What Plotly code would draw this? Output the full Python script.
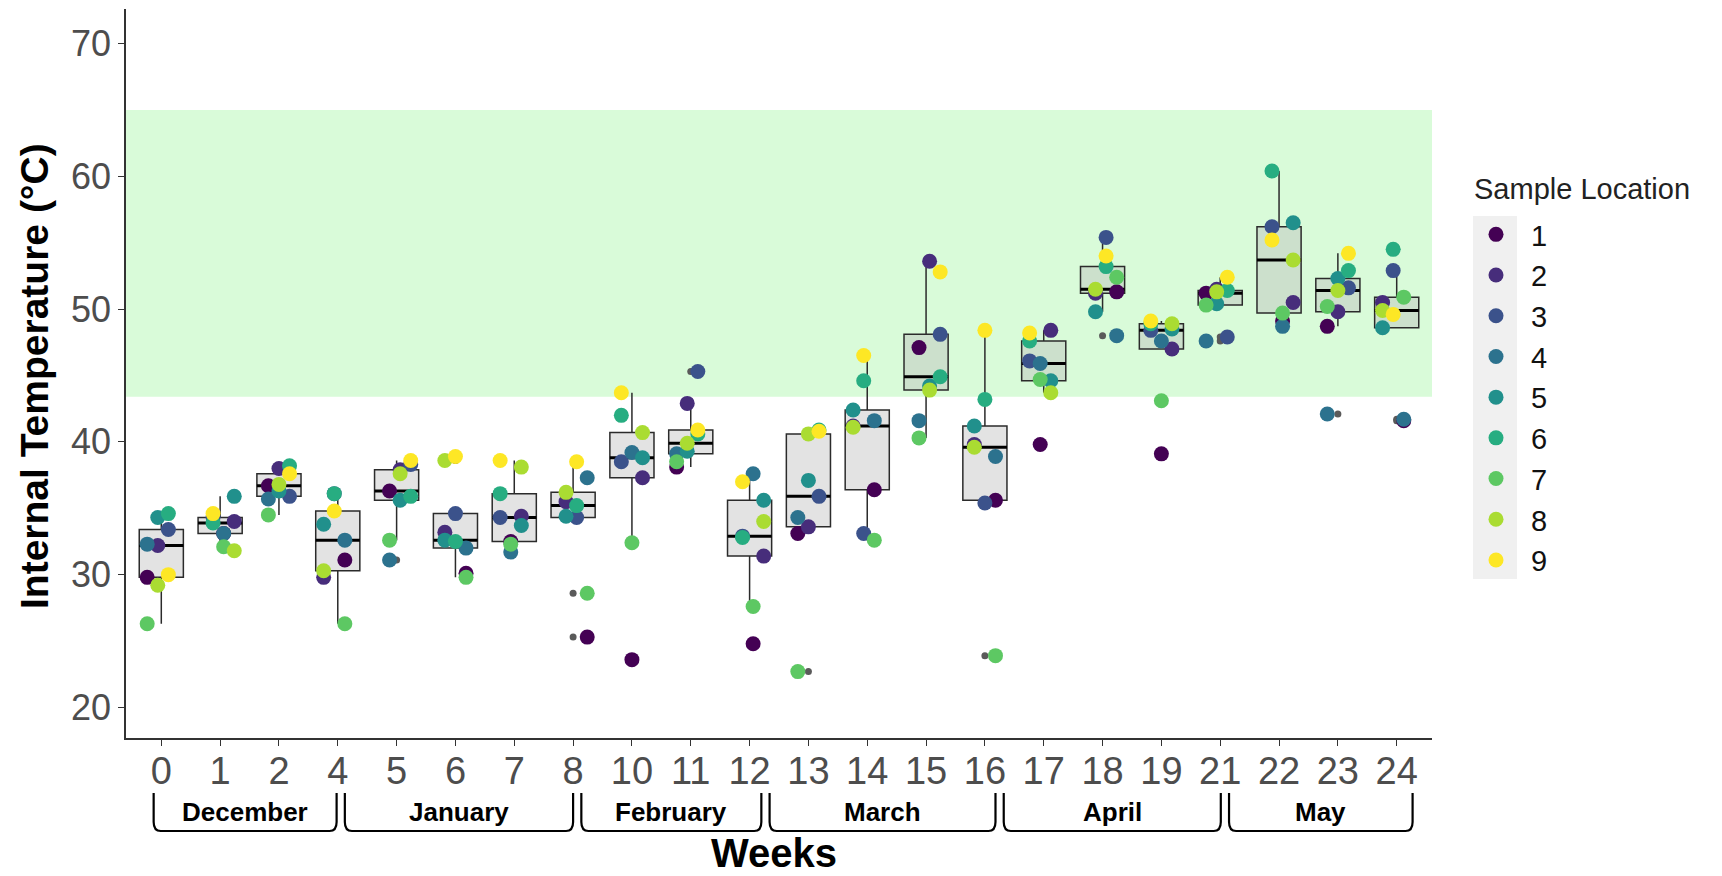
import numpy as np
import plotly.graph_objects as go

weeks = ["0", "1", "2", "4", "5", "6", "7", "8", "10", "11", "12", "13", "14",
         "15", "16", "17", "18", "19", "21", "22", "23", "24"]
locations = ["1", "2", "3", "4", "5", "6", "7", "8", "9"]

loc1 = [29.8, 33.1, 36.7, 31.1, 36.3, 30.1, 32.5, 25.3, 23.6, 38.1, 24.8, 33.1, 36.4, 47.1, 35.6, 39.8, 51.3, 39.1, 51.2, 49.1, 48.7, 41.6]
loc2 = [32.2, 34.0, 38.0, 29.8, 37.9, 33.2, 34.4, 35.5, 37.3, 42.9, 31.4, 33.6, 41.2, 53.6, 39.8, 48.4, 51.2, 47.0, 51.5, 50.5, 49.8, 50.5]
loc3 = [33.4, 34.3, 35.9, 36.1, 38.3, 34.6, 34.3, 34.3, 38.5, 45.3, 32.9, 35.9, 33.1, 48.1, 35.4, 46.1, 55.4, 48.4, 47.9, 56.2, 51.6, 52.9]
loc4 = [32.3, 33.1, 35.7, 32.6, 31.1, 32.0, 31.7, 37.3, 39.2, 39.1, 37.6, 34.3, 41.6, 41.6, 38.9, 45.9, 48.0, 47.6, 47.6, 48.7, 42.1, 41.7]
loc5 = [34.3, 35.9, 36.3, 33.8, 35.6, 32.6, 33.7, 34.4, 38.8, 39.3, 35.6, 37.1, 42.4, 44.2, 41.2, 44.6, 49.8, 48.5, 50.4, 56.5, 52.3, 48.6]
loc6 = [34.6, 33.9, 38.2, 36.1, 35.9, 32.5, 36.1, 35.2, 42.0, 40.6, 32.8, 40.9, 44.6, 44.9, 43.2, 47.6, 53.2, 48.9, 51.4, 60.4, 52.9, 54.5]
loc7 = [26.3, 32.1, 34.5, 26.3, 32.6, 29.8, 32.3, 28.6, 32.4, 38.5, 27.6, 22.7, 32.6, 40.3, 23.9, 44.7, 52.4, 43.1, 50.3, 49.7, 50.2, 50.9]
loc8 = [29.2, 31.8, 36.8, 30.3, 37.6, 38.6, 38.1, 36.2, 40.7, 39.9, 34.0, 40.6, 41.1, 43.9, 39.6, 43.7, 51.5, 48.9, 51.3, 53.7, 51.4, 49.9]
loc9 = [30.0, 34.6, 37.6, 34.8, 38.6, 38.9, 38.6, 38.5, 43.7, 40.9, 37.0, 40.8, 46.5, 52.8, 48.4, 48.2, 54.0, 49.1, 52.4, 55.2, 54.2, 49.6]

series = [loc1, loc2, loc3, loc4, loc5, loc6, loc7, loc8, loc9]

months = ["December", "January", "February", "March", "April", "May"]

# optimal composting band (°C)
band_low, band_high = 43.4, 65.0

# ---- styling / layout constants ----
colors = ["#440154", "#472D7B", "#3B528B", "#2C728E", "#21908C",
          "#27AD81", "#5DC863", "#AADC32", "#FDE725"]
month_edges = [-0.13, 3.05, 7.07, 10.27, 14.25, 18.08, 21.27]
BOX_W = 0.75
FONT = "Liberation Sans, Arial, sans-serif"

W, H = 1722, 876
L, R, T, B = 126, 290, 9, 138
plot_h = H - T - B
plot_w = W - L - R

def py(ypix):
    return (H - B - ypix) / plot_h

def px(xpix):
    return (xpix - L) / plot_w

fig = go.Figure()

n_w = len(weeks)
xs = np.arange(n_w)
data = np.array(series)  # loc x week

# boxplots (inclusive quartiles == R type 7 for n = 9)
for i in range(n_w):
    fig.add_trace(go.Box(
        x=[i] * len(locations), y=data[:, i], width=BOX_W,
        quartilemethod="inclusive",
        fillcolor="rgba(185,185,185,0.4)",
        line=dict(color="#2b2b2b", width=1.5),
        boxpoints="outliers", jitter=0, pointpos=0,
        marker=dict(color="#5a5a5a", size=7),
        whiskerwidth=0, showlegend=False, hoverinfo="skip"))

# thicker median lines (ggplot fatten)
mx, my = [], []
for i in range(n_w):
    m = float(np.percentile(data[:, i], 50))
    mx += [i - BOX_W / 2, i + BOX_W / 2, None]
    my += [m, m, None]
fig.add_trace(go.Scatter(x=mx, y=my, mode="lines",
                         line=dict(color="black", width=3),
                         showlegend=False, hoverinfo="skip"))

# jittered points (deterministic jitter)
for j, (loc, vals) in enumerate(zip(locations, series)):
    jit = [(((3 * j + 5 * i) % 9) - 4) * 0.06 for i in range(n_w)]
    fig.add_trace(go.Scatter(
        x=xs + np.array(jit), y=vals, mode="markers", name=loc,
        marker=dict(color=colors[j], size=15, line=dict(width=0)),
        hoverinfo="skip"))

shapes = [
    dict(type="rect", xref="paper", yref="y", x0=0, x1=1,
         y0=band_low, y1=band_high, fillcolor="#D9FBD9",
         line=dict(width=0), layer="below"),
    # legend key background
    dict(type="rect", xref="paper", yref="paper",
         x0=px(1473), x1=px(1517),
         y0=py(579), y1=py(216), fillcolor="#F0F0F0",
         line=dict(width=0), layer="below"),
]

annotations = []
ytop, ybot = py(793), py(831)
r = 9 / plot_h
for k, name in enumerate(months):
    x0 = month_edges[k] + 0.07 if k > 0 else month_edges[k]
    x1 = month_edges[k + 1] - 0.07 if k < len(months) - 1 else month_edges[k + 1]
    dx = 0.12
    path = (f"M {x0},{ytop} L {x0},{ybot + r} Q {x0},{ybot} {x0 + dx},{ybot} "
            f"L {x1 - dx},{ybot} Q {x1},{ybot} {x1},{ybot + r} L {x1},{ytop}")
    shapes.append(dict(type="path", xref="x", yref="paper", path=path,
                       line=dict(color="black", width=2.2)))
    annotations.append(dict(x=(x0 + x1) / 2, y=py(812), xref="x", yref="paper",
                            text=f"<b>{name}</b>", showarrow=False,
                            font=dict(family=FONT, size=26, color="black"),
                            xanchor="center", yanchor="middle"))

annotations.append(dict(x=px(774), y=py(853), xref="paper", yref="paper",
                        text="<b>Weeks</b>", showarrow=False,
                        font=dict(family=FONT, size=40, color="black"),
                        xanchor="center", yanchor="middle"))
annotations.append(dict(x=px(34), y=py(376), xref="paper", yref="paper",
                        text="<b>Internal Temperature (°C)</b>", showarrow=False,
                        textangle=-90,
                        font=dict(family=FONT, size=39, color="black"),
                        xanchor="center", yanchor="middle"))
annotations.append(dict(x=px(1472), y=py(189), xref="paper", yref="paper",
                        text="Sample Location", showarrow=False,
                        font=dict(family=FONT, size=29, color="#222"),
                        xanchor="left", yanchor="middle"))

fig.update_layout(
    width=W, height=H,
    margin=dict(l=L, r=R, t=T, b=B),
    paper_bgcolor="white", plot_bgcolor="white",
    shapes=shapes, annotations=annotations,
    legend=dict(
        font=dict(family=FONT, size=29, color="#111"),
        x=px(1461), xanchor="left",
        y=py(209), yanchor="top",
        tracegroupgap=0, itemwidth=60, bgcolor="rgba(0,0,0,0)"),
    xaxis=dict(
        range=[-0.6, n_w - 0.4], tickmode="array", tickvals=list(xs), ticktext=weeks,
        showgrid=False, zeroline=False, showline=True, linecolor="#333", linewidth=1.5,
        ticks="outside", ticklen=6, tickcolor="#333", tickwidth=1.2,
        tickfont=dict(family=FONT, size=38, color="#4D4D4D"), ticklabelstandoff=-7),
    yaxis=dict(
        range=[17.7, 72.6], tickmode="array", tickvals=[20, 30, 40, 50, 60, 70],
        showgrid=False, zeroline=False, showline=True, linecolor="#333", linewidth=1.5,
        ticks="outside", ticklen=6, tickcolor="#333", tickwidth=1.2,
        tickfont=dict(family=FONT, size=36, color="#4D4D4D")),
)

fig.write_html("out.html")
